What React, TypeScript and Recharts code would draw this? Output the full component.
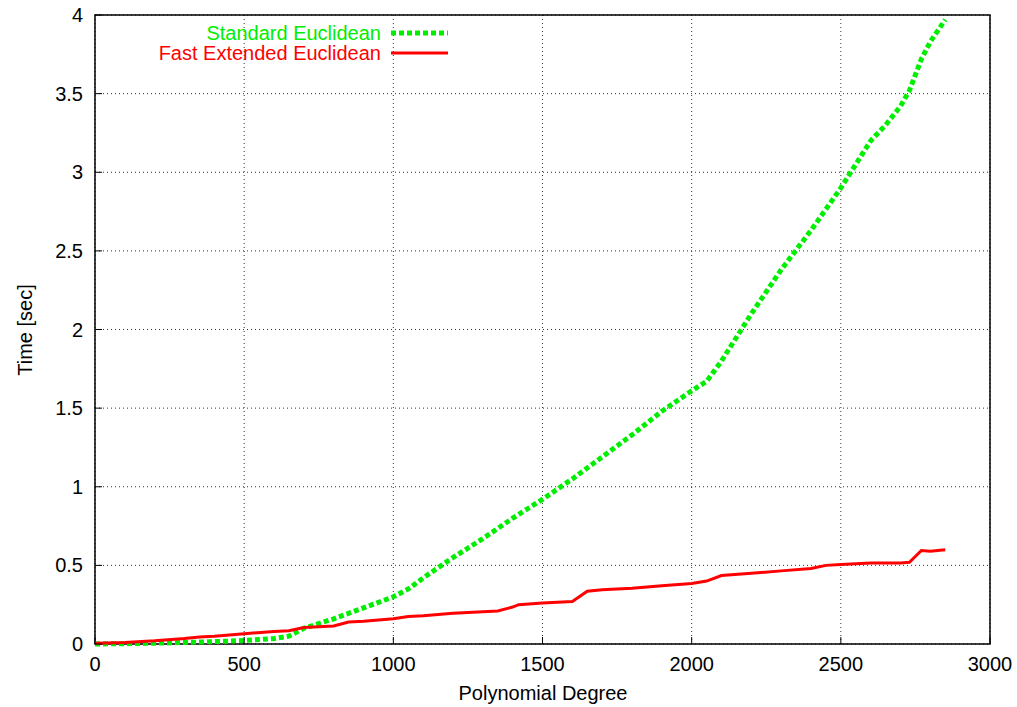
import React from "react";
import {
  CartesianGrid,
  Legend,
  Line,
  LineChart,
  ReferenceArea,
  XAxis,
  YAxis,
} from "recharts";

const FONT = "'Liberation Sans', Arial, Helvetica, sans-serif";
const FS = 20;

const seriesNames = ["Standard Euclidean", "Fast Extended Euclidean"];

const stdDegree = [0, 100, 200, 300, 400, 500, 600, 650, 700, 800, 900, 1000, 1050, 1100, 1200, 1300, 1400, 1500, 1600, 1700, 1800, 1900, 2000, 2050, 2100, 2200, 2300, 2400, 2500, 2600, 2650, 2700, 2730, 2770, 2800, 2850];
const stdTime = [0, 0.002, 0.005, 0.01, 0.015, 0.022, 0.035, 0.05, 0.1, 0.16, 0.23, 0.3, 0.35, 0.42, 0.55, 0.67, 0.8, 0.92, 1.05, 1.19, 1.33, 1.48, 1.61, 1.67, 1.8, 2.1, 2.38, 2.63, 2.9, 3.2, 3.3, 3.42, 3.52, 3.72, 3.83, 3.97];

const fastDegree = [0, 100, 200, 300, 350, 400, 500, 600, 650, 700, 800, 850, 900, 1000, 1050, 1100, 1200, 1250, 1350, 1400, 1420, 1500, 1600, 1650, 1700, 1800, 1900, 2000, 2050, 2100, 2200, 2300, 2400, 2450, 2500, 2600, 2700, 2730, 2770, 2800, 2850];
const fastTime = [0.005, 0.01, 0.02, 0.035, 0.045, 0.05, 0.065, 0.08, 0.085, 0.105, 0.115, 0.14, 0.145, 0.16, 0.175, 0.18, 0.195, 0.2, 0.21, 0.235, 0.25, 0.26, 0.27, 0.335, 0.345, 0.355, 0.37, 0.385, 0.4, 0.435, 0.45, 0.465, 0.48, 0.5, 0.505, 0.515, 0.515, 0.52, 0.595, 0.59, 0.6];

const xTicks = [0, 500, 1000, 1500, 2000, 2500, 3000];
const yTicks = [0, 0.5, 1, 1.5, 2, 2.5, 3, 3.5, 4];

const stdData = stdDegree.map((d, i) => ({ d, t: stdTime[i] }));
const fastData = fastDegree.map((d, i) => ({ d, t: fastTime[i] }));

const tickStyle = { fill: "#000", fontSize: FS, fontFamily: FONT };

function XTitle() {
  return (
    <text x={543} y={700} textAnchor="middle" fontFamily={FONT} fontSize={FS} fill="#000">
      Polynomial Degree
    </text>
  );
}

function YTitle() {
  return (
    <text
      x={32}
      y={330}
      textAnchor="middle"
      transform="rotate(-90, 32, 330)"
      fontFamily={FONT}
      fontSize={FS}
      fill="#000"
    >
      Time [sec]
    </text>
  );
}

function LegendBox({ payload }: any) {
  const items = (payload || [])
    .filter((p: any) => seriesNames.includes(p.value))
    .sort((a: any, b: any) => seriesNames.indexOf(a.value) - seriesNames.indexOf(b.value));
  return (
    <div style={{ position: "relative", height: 0 }}>
      {items.map((item: any, i: number) => (
        <React.Fragment key={item.value}>
          <div
            style={{
              position: "absolute",
              left: 0,
              top: 22 + 20 * i,
              width: 381,
              textAlign: "right",
              fontFamily: FONT,
              fontSize: FS,
              lineHeight: "22px",
              color: item.color,
              whiteSpace: "nowrap",
            }}
          >
            {item.value}
          </div>
          <svg
            width={60}
            height={10}
            style={{ position: "absolute", left: 390, top: 28 + 20 * i }}
          >
            <line
              x1={1}
              y1={5}
              x2={58}
              y2={5}
              stroke={item.color}
              strokeWidth={i === 0 ? 5 : 3}
              strokeDasharray={i === 0 ? "5 3" : undefined}
            />
          </svg>
        </React.Fragment>
      ))}
    </div>
  );
}

export default function App() {
  return (
    <div style={{ position: "absolute", left: 0, top: 0, background: "#fff" }}>
      <LineChart
        width={1017}
        height={707}
        margin={{ top: 15, right: 27, bottom: 0, left: 0 }}
      >
        <CartesianGrid stroke="#333" strokeDasharray="1 3" />
        <XAxis
          dataKey="d"
          type="number"
          domain={[0, 3000]}
          ticks={xTicks}
          allowDataOverflow
          height={63}
          axisLine={false}
          tickSize={-7}
          tickMargin={20}
          tickLine={{ stroke: "#000" }}
          tick={tickStyle}
          label={<XTitle />}
        />
        <XAxis
          xAxisId="top"
          orientation="top"
          dataKey="d"
          type="number"
          domain={[0, 3000]}
          ticks={xTicks}
          allowDataOverflow
          height={0}
          axisLine={false}
          tickSize={-7}
          tickLine={{ stroke: "#000" }}
          tickFormatter={() => ""}
        />
        <YAxis
          type="number"
          domain={[0, 4]}
          ticks={yTicks}
          width={95}
          axisLine={false}
          tickSize={-7}
          tickMargin={19}
          tickLine={{ stroke: "#000" }}
          tick={tickStyle}
          label={<YTitle />}
        />
        <YAxis
          yAxisId="right"
          orientation="right"
          type="number"
          domain={[0, 4]}
          ticks={yTicks}
          width={0}
          axisLine={false}
          tickSize={-7}
          tickLine={{ stroke: "#000" }}
          tickFormatter={() => ""}
        />
        <ReferenceArea
          x1={0}
          x2={3000}
          y1={0}
          y2={4}
          fill="none"
          stroke="#000"
          strokeWidth={1.5}
        />
        <Legend content={<LegendBox />} wrapperStyle={{ left: 0, top: 0, width: 1017 }} />
        <Line
          data={stdData}
          dataKey="t"
          name={seriesNames[0]}
          type="linear"
          stroke="#00ee00"
          strokeWidth={5}
          strokeDasharray="5 3"
          dot={false}
          activeDot={false}
          isAnimationActive={false}
        />
        <Line
          data={fastData}
          dataKey="t"
          name={seriesNames[1]}
          type="linear"
          stroke="#ff0000"
          strokeWidth={3}
          dot={false}
          activeDot={false}
          isAnimationActive={false}
        />
      </LineChart>
    </div>
  );
}
